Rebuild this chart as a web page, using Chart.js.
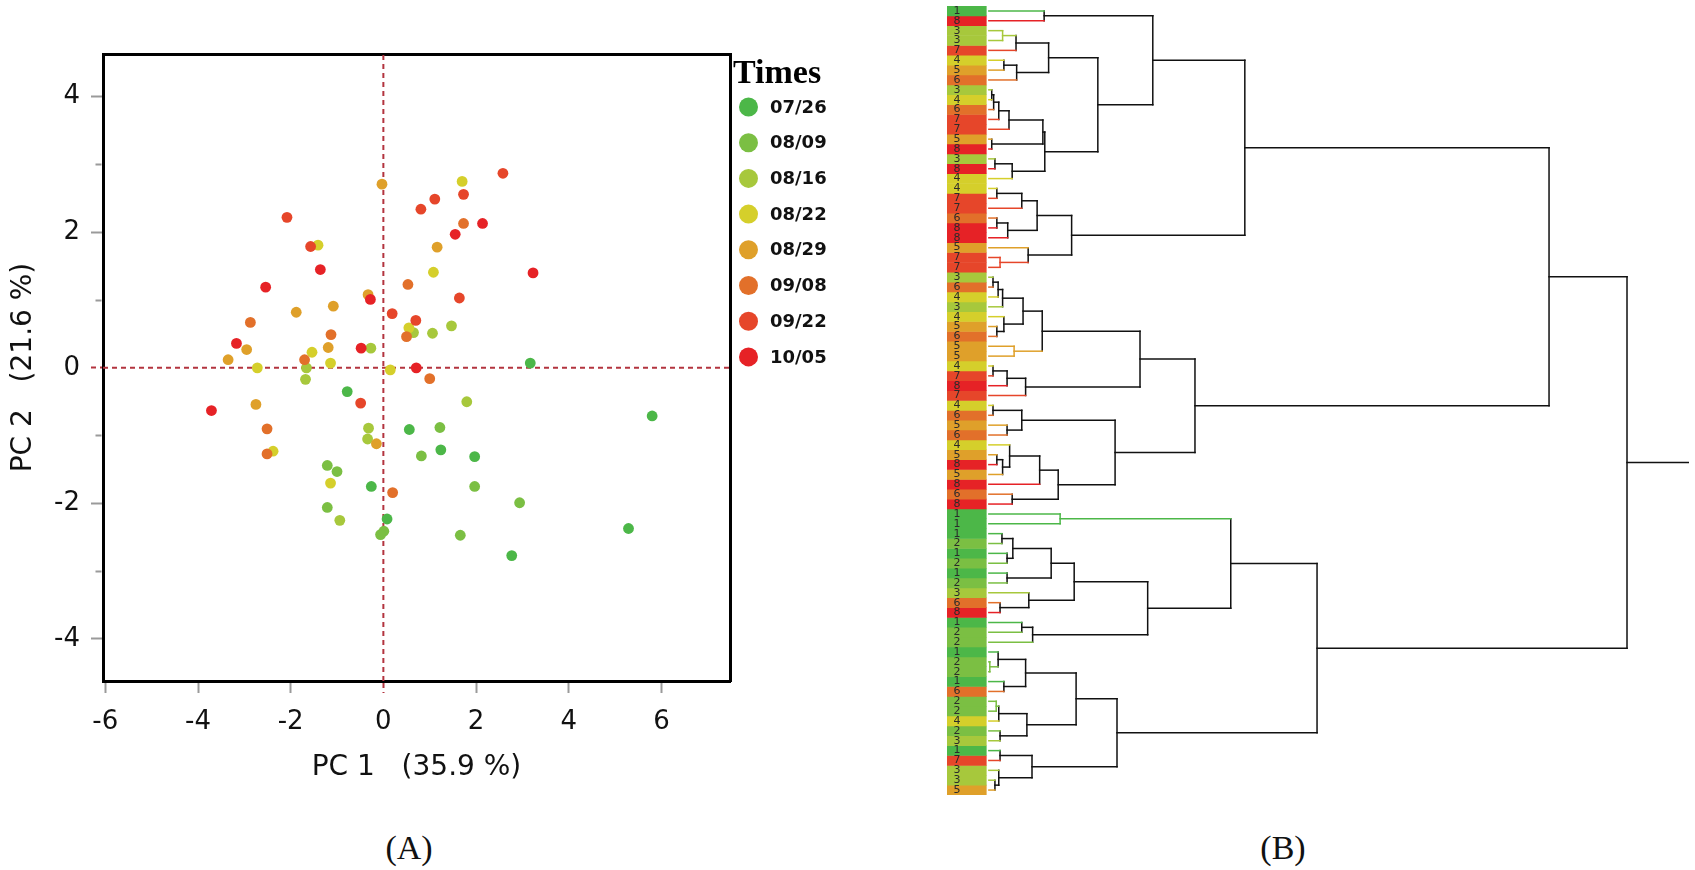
<!DOCTYPE html>
<html>
<head>
<meta charset="utf-8">
<title>PCA score plot and cluster dendrogram</title>
<script src="https://cdn.jsdelivr.net/npm/chart.js@4.4.1/dist/chart.umd.min.js"></script>
<style>
  html, body { margin: 0; padding: 0; background: #fff; }
  #page { position: relative; width: 1695px; height: 870px; overflow: hidden; }
  .panel { position: absolute; }
  .caption {
    position: absolute; top: 829px; line-height: 34px;
    font: 34px "Liberation Serif", "Times New Roman", serif; color: #111;
    transform: translateX(-50%);
  }
</style>
</head>
<body>
<div id="page">
  <div class="panel" style="left:0;top:0;width:860px;height:800px"><canvas id="pcaChart" width="860" height="800"></canvas></div>
  <div class="panel" style="left:930px;top:0;width:765px;height:810px"><canvas id="treeChart" width="765" height="810"></canvas></div>
  <div class="caption" style="left:409px">(A)</div>
  <div class="caption" style="left:1283px">(B)</div>
</div>
<script>
const FONT = "'DejaVu Sans', 'Noto Sans', sans-serif";

// sampling dates (legend) and their colours
const times = ["07/26", "08/09", "08/16", "08/22", "08/29", "09/08", "09/22", "10/05"];
const timeColors = ["#4cb748", "#7bbf43", "#a7c83c", "#d5cf2b", "#dfa02a", "#e2702a", "#e6462a", "#e62226"];

// PCA scores, one row per sampling date
const pc1ByTime = [
  [3.17, -0.78, 0.56, 1.24, -0.26, 0.08, 1.97, 2.77, 5.29, 5.80],
  [1.22, 0.82, -1.21, -1.00, -1.21, 0.01, 1.97, 2.94, 1.66, -0.06],
  [-1.66, -1.68, -0.27, 1.06, 1.47, -0.32, -0.34, -0.94, 1.80, 0.65],
  [1.08, -1.41, -2.72, -1.54, -1.14, 0.55, 0.15, 1.70, -2.38, -1.14],
  [-0.03, 1.16, -1.88, -1.08, -2.95, -3.35, -1.19, -0.33, -2.75, -0.15],
  [-2.87, -1.13, -1.70, 0.53, 0.50, 1.00, 1.73, -2.51, -2.51, 0.20],
  [1.11, 0.81, -2.08, -1.57, 0.19, 0.70, 2.58, 1.73, 1.64, -0.49],
  [-1.36, -2.54, -3.17, -0.28, -0.48, 0.71, 2.14, 1.55, 3.23, -3.71]
];
const pc2ByTime = [
  [0.07, -0.35, -0.91, -1.21, -1.75, -2.23, -1.31, -2.77, -2.37, -0.71],
  [-0.88, -1.30, -1.44, -1.53, -2.06, -2.41, -1.75, -1.99, -2.47, -2.46],
  [0.00, -0.17, 0.29, 0.51, 0.62, -0.89, -1.05, -2.25, -0.50, 0.52],
  [1.41, 1.81, 0.00, 0.23, 0.07, 0.59, -0.03, 2.75, -1.23, -1.70],
  [2.71, 1.78, 0.82, 0.91, 0.27, 0.12, 0.30, 1.08, -0.54, -1.12],
  [0.67, 0.49, 0.12, 1.23, 0.46, -0.16, 2.13, -0.90, -1.27, -1.84],
  [2.49, 2.34, 2.22, 1.79, 0.80, 0.70, 2.87, 2.56, 1.03, -0.52],
  [1.45, 1.19, 0.36, 1.01, 0.29, 0.00, 2.13, 1.97, 1.40, -0.63]
];
const pc1Ticks = [-6, -4, -2, 0, 2, 4, 6];
const pc2Ticks = [-4, -3, -2, -1, 0, 1, 2, 3, 4];
const pc1Range = [-6.05, 7.48];
const pc2Range = [-4.62, 4.63];

// dendrogram: leaf order top to bottom, value = sampling date number (1..8)
const leafGroup = [
  1, 8, 3, 3, 7, 4, 5, 6, 3, 4, 6, 7, 7, 5, 8, 3, 8, 4, 4, 7,
  7, 6, 8, 8, 5, 7, 7, 3, 6, 4, 3, 4, 5, 6, 5, 5, 4, 7, 8, 7,
  4, 6, 5, 6, 4, 5, 8, 5, 8, 6, 8, 1, 1, 1, 2, 1, 2, 1, 2, 3,
  6, 8, 1, 2, 2, 1, 2, 2, 1, 6, 2, 2, 4, 2, 3, 1, 7, 3, 3, 5
];
// merges in hclust style: negative = leaf row, positive = earlier merge step
const mergePairs = [
  [-1, -2], [-3, -4], [2, -5], [-6, -7], [4, -8], [3, 5], [-9, -10], [7, -11], [8, -12], [9, -13],
  [-14, -15], [10, 11], [-16, -17], [13, -18], [12, 14], [6, 15], [1, 16], [-19, -20], [18, -21], [-22, -23],
  [20, -24], [19, 21], [-26, -27], [-25, 23], [22, 24], [17, 25], [-28, -29], [27, -30], [28, -31], [-33, -34],
  [-32, 30], [29, 31], [-35, -36], [32, 33], [-37, -38], [35, -39], [36, -40], [34, 37], [-41, -42], [-43, -44],
  [39, 40], [-46, -47], [42, -48], [-45, 43], [44, -49], [-50, -51], [45, 46], [41, 47], [38, 48], [26, 49],
  [-52, -53], [-54, -55], [-56, -57], [52, 53], [-58, -59], [54, 55], [-61, -62], [-60, 57], [56, 58], [-63, -64],
  [60, -65], [59, 61], [51, 62], [-67, -68], [-66, 64], [-69, -70], [65, 66], [-71, -72], [68, -73], [-74, -75],
  [69, 70], [67, 71], [-76, -77], [-79, -80], [-78, 74], [73, 75], [72, 76], [63, 77], [50, 78]
];
const mergeHeight = [
  8.8, 2.3, 4.4, 2.5, 4.5, 9.5, 0.6, 0.9, 1.7, 3.3,
  0.6, 8.6, 1.1, 3.8, 8.9, 17.2, 25.8, 1.4, 5.3, 1.4,
  3.1, 7.7, 1.9, 6.3, 13.1, 40.2, 0.8, 1.6, 2.3, 1.4,
  2.5, 5.5, 4.1, 8.5, 0.8, 3.0, 5.9, 23.8, 0.8, 3.0,
  5.3, 1.4, 2.3, 3.4, 8.1, 3.8, 11.0, 19.9, 32.4, 87.8,
  11.3, 2.2, 3.0, 3.9, 3.0, 9.9, 1.9, 6.4, 13.5, 5.3,
  7.0, 25.0, 38.0, 0.3, 1.6, 2.5, 5.9, 1.3, 1.7, 1.9,
  6.1, 13.8, 1.9, 1.1, 1.7, 6.9, 20.2, 51.5, 100
];

const ZERO_COLOR = "#b3343f";
const TICK_COLOR = "#9a9a9a";
const STRIP_LEFT = -6.4;
const STRIP_RIGHT = -0.2;
const LABEL_X = -4.85;
const LEAF_GAP = 0.15;
const STUB_END = 109.7;

Chart.defaults.font.family = FONT;
Chart.defaults.color = "#111";

// ---------- (A) PCA score plot ----------
const timesLegend = {
  id: "timesLegend",
  afterDraw(chart) {
    const ctx = chart.ctx;
    ctx.save();
    ctx.fillStyle = "#000";
    ctx.font = "bold 34px 'Liberation Serif', 'Times New Roman', serif";
    ctx.textBaseline = "alphabetic";
    ctx.fillText("Times", 733, 83);
    ctx.font = `bold 18px ${FONT}`;
    ctx.textBaseline = "middle";
    times.forEach((t, g) => {
      const cy = 107 + g * 35.7;
      ctx.fillStyle = timeColors[g];
      ctx.beginPath();
      ctx.arc(748.5, cy, 9.5, 0, Math.PI * 2);
      ctx.fill();
      ctx.fillStyle = "#111";
      ctx.fillText(t, 770, cy + 1);
    });
    ctx.restore();
  }
};

const pointSets = times.map((t, g) => ({
  type: "scatter",
  label: t,
  data: pc1ByTime[g].map((x, i) => ({ x, y: pc2ByTime[g][i] })),
  backgroundColor: timeColors[g],
  borderWidth: 0,
  pointRadius: 5.4,
  pointHoverRadius: 5.4,
  order: 8 - g
}));

const zeroLines = [
  [{ x: pc1Range[0], y: 0 }, { x: pc1Range[1], y: 0 }],
  [{ x: 0, y: pc2Range[0] }, { x: 0, y: pc2Range[1] }]
].map((data) => ({
  type: "scatter",
  data,
  showLine: true,
  borderColor: ZERO_COLOR,
  borderWidth: 2,
  borderDash: [5, 4],
  pointRadius: 0,
  order: 20
}));

const isZero = (ctx) => ctx.tick && ctx.tick.value === 0;

new Chart(document.getElementById("pcaChart"), {
  type: "scatter",
  data: { datasets: [...pointSets, ...zeroLines] },
  options: {
    responsive: false,
    animation: false,
    events: [],
    layout: { padding: { top: 54, right: 130, left: 0, bottom: 0 } },
    plugins: { legend: { display: false }, tooltip: { enabled: false } },
    scales: {
      x: {
        type: "linear",
        min: pc1Range[0],
        max: pc1Range[1],
        afterBuildTicks: (scale) => { scale.ticks = pc1Ticks.map((v) => ({ value: v })); },
        afterFit: (scale) => { scale.height = 119; },
        ticks: { autoSkip: false, maxRotation: 0, padding: 14, font: { size: 26 }, color: "#111", callback: (v) => String(v) },
        grid: {
          drawOnChartArea: false, tickLength: 12, tickWidth: 2,
          tickColor: (ctx) => (isZero(ctx) ? ZERO_COLOR : TICK_COLOR),
          tickBorderDash: (ctx) => (isZero(ctx) ? [5, 4] : [])
        },
        border: { color: "#000", width: 3 },
        title: { display: true, text: "PC 1   (35.9 %)", font: { size: 28 }, color: "#111", padding: { top: 0, bottom: 15 } }
      },
      y: {
        type: "linear",
        min: pc2Range[0],
        max: pc2Range[1],
        afterBuildTicks: (scale) => { scale.ticks = pc2Ticks.map((v) => ({ value: v })); },
        afterFit: (scale) => { scale.width = 103; },
        ticks: { autoSkip: false, padding: 11, font: { size: 26 }, color: "#111", callback: (v) => (v % 2 === 0 ? String(v) : "") },
        grid: {
          drawOnChartArea: false, tickLength: 12, tickWidth: 2,
          tickColor: (ctx) => (isZero(ctx) ? ZERO_COLOR : TICK_COLOR),
          tickBorderDash: (ctx) => {
            if (!ctx.tick) return [];
            if (ctx.tick.value === 0) return [5, 4];
            return ctx.tick.value % 2 ? [0, 4.5, 6, 100] : [];
          }
        },
        border: { color: "#000", width: 3 },
        title: { display: true, text: "PC 2   (21.6 %)", font: { size: 28 }, color: "#111", padding: { top: 7, bottom: 0 } }
      },
      xTop: {
        type: "linear", position: "top", min: pc1Range[0], max: pc1Range[1],
        ticks: { display: false },
        grid: { drawOnChartArea: false, drawTicks: false },
        border: { color: "#000", width: 3 },
        afterFit: (scale) => { scale.height = 0; }
      },
      yRight: {
        type: "linear", position: "right", min: pc2Range[0], max: pc2Range[1],
        ticks: { display: false },
        grid: { drawOnChartArea: false, drawTicks: false },
        border: { color: "#000", width: 3 },
        afterFit: (scale) => { scale.width = 0; }
      }
    }
  },
  plugins: [timesLegend]
});

// ---------- (B) dendrogram ----------
function groupColor(group) {
  return group ? timeColors[group - 1] : "#111";
}

function buildTreeSegments() {
  const merged = [];
  const segments = [];
  const info = (ref) => {
    if (ref < 0) return { h: 0, y: -ref, group: leafGroup[-ref - 1], leaf: true };
    return merged[ref - 1];
  };
  mergePairs.forEach(([a, b], k) => {
    const left = info(a);
    const right = info(b);
    const h = mergeHeight[k];
    [left, right].forEach((child) => {
      segments.push({ from: [child.leaf ? LEAF_GAP : child.h, child.y], to: [h, child.y], group: child.group });
    });
    const group = left.group === right.group ? left.group : 0;
    segments.push({ from: [h, left.y], to: [h, right.y], group });
    merged.push({ h, y: (left.y + right.y) / 2, group, leaf: false });
  });
  const root = merged[merged.length - 1];
  segments.push({ from: [root.h, root.y], to: [STUB_END, root.y], group: root.group });
  return segments;
}

const stripSets = leafGroup.map((g, i) => ({
  data: [{ x: STRIP_LEFT, y: i + 1 }, { x: STRIP_RIGHT, y: i + 1 }],
  showLine: true,
  borderColor: timeColors[g - 1],
  borderWidth: 10.4,
  borderCapStyle: "butt",
  pointRadius: 0
}));

const treeSets = buildTreeSegments().map((s) => ({
  data: [{ x: s.from[0], y: s.from[1] }, { x: s.to[0], y: s.to[1] }],
  showLine: true,
  borderColor: groupColor(s.group),
  borderWidth: 1.5,
  borderCapStyle: "square",
  pointRadius: 0
}));

const leafLabels = {
  id: "leafLabels",
  afterDatasetsDraw(chart) {
    const { ctx, scales } = chart;
    ctx.save();
    ctx.font = `11px ${FONT}`;
    ctx.fillStyle = "#2b2b2b";
    ctx.textAlign = "center";
    ctx.textBaseline = "middle";
    leafGroup.forEach((g, i) => {
      ctx.fillText(String(g), scales.x.getPixelForValue(LABEL_X), scales.y.getPixelForValue(i + 1));
    });
    ctx.restore();
  }
};

new Chart(document.getElementById("treeChart"), {
  type: "scatter",
  data: { datasets: [...treeSets, ...stripSets] },
  options: {
    responsive: false,
    animation: false,
    events: [],
    layout: { padding: { left: 17, right: 6, top: 6, bottom: 15 } },
    plugins: { legend: { display: false }, tooltip: { enabled: false } },
    scales: {
      x: { type: "linear", display: false, min: STRIP_LEFT, max: STUB_END },
      y: { type: "linear", display: false, min: 0.5, max: leafGroup.length + 0.5, reverse: true }
    }
  },
  plugins: [leafLabels]
});
</script>
</body>
</html>
